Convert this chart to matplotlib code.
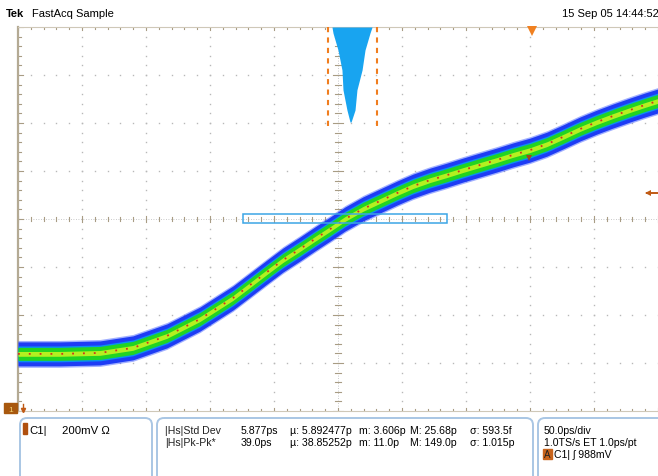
import numpy as np
import matplotlib
matplotlib.use("Agg")
import matplotlib.pyplot as plt
from matplotlib.patches import FancyBboxPatch, Rectangle

plt.rcParams['font.family'] = ['Liberation Sans', 'DejaVu Sans']

# ---- data (time in ps, 50 ps/div; amplitude in mV from screen centre, 200 mV/div)
wave_t_ps = [0, 32.8, 64.1, 89.8, 116.4, 142.2, 168.0, 181.3, 194.5, 207.0, 220.3, 232.0,
             243.8, 255.5, 269.5, 282.8, 296.1, 308.6, 321.9, 335.2, 347.7, 360.9, 374.2,
             386.7, 400.0, 413.3, 425.8, 439.1, 452.3, 464.8, 478.1, 489.8, 500.0]
wave_mv = [-562, -562, -558, -537, -487, -417, -329, -275, -221, -171, -125, -83,
           -42, 0, 42, 75, 108, 137, 162, 183, 204, 225, 246,
           267, 287, 312, 342, 375, 404, 429, 454, 475, 492]

hist_t_ps = [245.3, 246.1, 250.0, 253.1, 253.9, 257.0, 259.4, 260.2, 263.3, 264.8, 268.8,
             271.1, 275.0, 276.6]
hist_depth_mv = [0, 25, 96, 179, 262, 346, 396, 396, 346, 262, 179, 96, 25, 0]

gate_t_ps = [242.2, 280.5]
box_t_ps = [175.8, 335.2]
trig_t_ps = 401.6
trig_level_mv = 254
ref_arrow_mv = 108

header_left = "FastAcq Sample"
header_right = "15 Sep 05 14:44:52"
meas_rows = [
    ["|Hs|Std Dev", "5.877ps", "\u00b5: 5.892477p", "m: 3.606p", "M: 25.68p", "\u03c3: 593.5f"],
    ["|Hs|Pk-Pk*", "39.0ps", "\u00b5: 38.85252p", "m: 11.0p", "M: 149.0p", "\u03c3: 1.015p"],
]
timebase_rows = ["50.0ps/div", "1.0TS/s ET 1.0ps/pt"]

W, H = 658, 476
fig = plt.figure(figsize=(W / 100, H / 100), dpi=100)
fig.patch.set_facecolor('white')

ax = fig.add_axes([18 / W, (H - 411) / H, 640 / W, 384 / H])
ax.set_xlim(0, 500)
ax.set_ylim(-800, 800)
ax.set_facecolor('white')
ax.spines['right'].set_visible(False)
ax.spines['left'].set_color('#b4aa94')
ax.spines['left'].set_linewidth(1.6)
ax.spines['top'].set_color('#cfc8b8')
ax.spines['bottom'].set_color('#cfc8b8')
ax.spines['top'].set_linewidth(0.8)
ax.spines['bottom'].set_linewidth(0.8)
ax.set_xticks([]); ax.set_yticks([])

gcol = '#b8b8b8'
tcol = '#a89c84'
minor_x = np.arange(0, 501, 10)
minor_y = np.arange(-800, 801, 40)
for xv in range(50, 500, 50):
    if xv == 250:
        continue
    ax.plot([xv] * len(minor_y), minor_y, ls='none', marker='s', ms=1.0, color=gcol, mew=0)
for yv in range(-600, 601, 200):
    if yv == 0:
        continue
    ax.plot(minor_x, [yv] * len(minor_x), ls='none', marker='s', ms=1.0, color=gcol, mew=0)
ax.plot([0, 500], [0, 0], color=gcol, lw=0.6, ls=(0, (1, 2)))
ax.plot([250, 250], [-800, 800], color=gcol, lw=0.6, ls=(0, (1, 2)))
for xv in minor_x:
    L = 14 if xv % 50 == 0 else 9
    ax.plot([xv, xv], [-L, L], color=tcol, lw=0.8)
    ax.plot([xv, xv], [800, 800 - L], color=tcol, lw=0.8)
    ax.plot([xv, xv], [-800, -800 + L], color=tcol, lw=0.8)
for yv in minor_y:
    L = 4 if yv % 200 == 0 else 2.5
    ax.plot([250 - L, 250 + L], [yv, yv], color=tcol, lw=0.8)
    ax.plot([0, L], [yv, yv], color=tcol, lw=0.8)

# waveform band (FastAcq intensity layers)
t = np.array(wave_t_ps, float)
v = np.array(wave_mv, float)
ax.fill_between(t, v - 56, v + 56, color='#3050ff', alpha=0.45, lw=0, zorder=3)
ax.fill_between(t, v - 50, v + 50, color='#1e3cf5', lw=0, zorder=3)
ax.fill_between(t, v - 33, v + 33, color='#0a90f0', lw=0, zorder=3)
ax.fill_between(t, v - 27, v + 27, color='#22d422', lw=0, zorder=3)
ax.fill_between(t, v - 10, v + 10, color='#b4f020', lw=0, zorder=3)
ax.plot(t, v, color='#d2321e', lw=1.3, ls=(0, (1, 5)), zorder=4)

# histogram
ht = np.array(hist_t_ps)
hd = np.array(hist_depth_mv)
ax.fill_between(ht, 800, 800 - hd, color='#18a4f0', lw=0, zorder=5)
for g in gate_t_ps:
    ax.plot([g, g], [800, 379], color='#f07d1e', lw=1.5, ls=(0, (2.5, 2.5)), zorder=6)

ax.add_patch(Rectangle((box_t_ps[0], -17), box_t_ps[1] - box_t_ps[0], 38, fill=False,
                       ec='#3ca6e6', lw=1.1, zorder=6))

ax.plot([trig_t_ps], [782], marker='v', color='#f08020', ms=7, mew=0, zorder=7, clip_on=False)
ax.plot([trig_t_ps - 2], [trig_level_mv], marker='v', color='#a04a18', ms=5, mew=0, zorder=7)

# overlay in pixel coords
ov = fig.add_axes([0, 0, 1, 1], facecolor='none')
ov.set_xlim(0, W); ov.set_ylim(H, 0); ov.axis('off')

ov.text(6, 17, "Tek", fontsize=8, fontweight='bold', va='baseline', ha='left')
ov.text(32, 17, header_left, fontsize=8, va='baseline', ha='left')
ov.text(659, 17, header_right, fontsize=8, va='baseline', ha='right')

ov.plot([647, 658], [193, 193], color='#c05a14', lw=1.4)
ov.plot([648], [193], marker='<', color='#c05a14', ms=4.5, mew=0)

ov.add_patch(Rectangle((4, 403), 13, 10, color='#a8580e'))
ov.text(10.5, 411.5, "1", fontsize=6, color='#f0d070', ha='center', va='baseline')
ov.plot([23, 23], [404, 411], color='#c05a14', lw=1)
ov.plot([23], [410], marker='v', color='#c05a14', ms=3)

pcol = '#a9c6e4'
for x0, x1 in [(20, 152), (157, 533), (538, 672)]:
    ov.add_patch(FancyBboxPatch((x0, 418), x1 - x0, 70, boxstyle='round,pad=0,rounding_size=7',
                                fill=False, ec=pcol, lw=1.4))

ov.add_patch(Rectangle((23, 423), 4, 11, color='#b0500e'))
ov.text(29, 433.5, "C1|", fontsize=8.2, va='baseline')
ov.text(62, 433.5, "200mV \u03a9", fontsize=8.2, va='baseline')

fs = 7.6
xs = [165, 241, 290, 359, 410, 470]
for r, row in enumerate(meas_rows):
    yb = 433.5 + r * 12.5
    for x, s in zip(xs, row):
        ov.text(x, yb, s, fontsize=fs, va='baseline', color='#222222' if x == 165 else 'black')

for r, s in enumerate(timebase_rows):
    ov.text(544, 433.5 + r * 12.5, s, fontsize=fs, va='baseline')
ov.add_patch(Rectangle((543, 449), 9, 10, color='#c8641c'))
ov.text(547.5, 457.5, "A", fontsize=7, ha='center', va='baseline', color='#222222')
ov.text(554, 458, "C1| \u0283 988mV", fontsize=fs, va='baseline')

fig.savefig('out.png', dpi=100, facecolor='white')
